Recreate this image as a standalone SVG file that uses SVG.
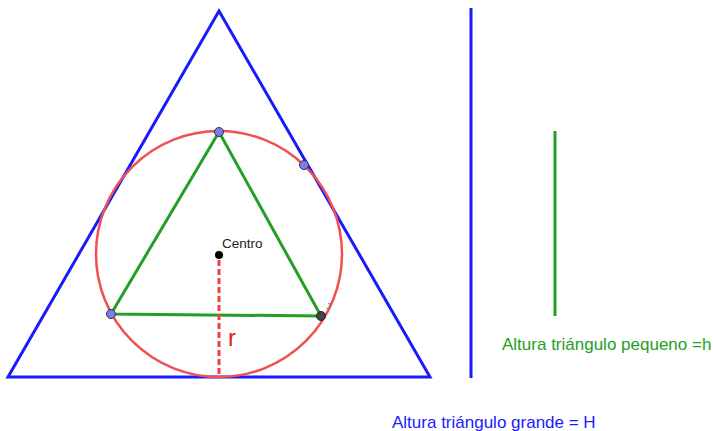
<svg xmlns="http://www.w3.org/2000/svg" width="713" height="431" viewBox="0 0 713 431">
<style>
.t{font-family:"Liberation Sans",Arial,sans-serif}
.pt{fill:#7b7bf0;stroke:#333;stroke-width:1}
</style>
<rect width="713" height="431" fill="#fff"/>
<g id="big-triangle">
<polygon points="219,11 8,377 430,377" fill="none" stroke="#1a1aff" stroke-width="3" stroke-linejoin="miter"/>
</g>
<g id="circle">
<circle cx="219" cy="254" r="123" fill="none" stroke="#f05050" stroke-width="2.5"/>
</g>
<g id="small-triangle">
<polygon points="219,132 111,314 321,316" fill="none" stroke="#23a023" stroke-width="3"/>
</g>
<g id="connectors">
<line x1="219" y1="260" x2="219" y2="377" stroke="#f04040" stroke-width="3" stroke-dasharray="6,3"/>
</g>
<g id="points">
<circle class="pt" cx="219" cy="132" r="4.5"/>
<circle class="pt" cx="111" cy="314" r="4.5"/>
<circle class="pt" cx="304" cy="165" r="4.5"/>
<circle cx="321" cy="316" r="4.5" fill="#444" stroke="#222" stroke-width="1"/>
<text class="t" x="326" y="309" font-size="9" fill="#888">J</text>
</g>
<g id="centro">
<circle cx="219" cy="255" r="4" fill="#000"/>
<text class="t" x="222" y="248" font-size="13.5" fill="#222">Centro</text>
</g>
<g id="r-label">
<text class="t" x="228" y="346" font-size="24" fill="#e02020">r</text>
</g>
<g id="H-line">
<line x1="471" y1="8" x2="471" y2="378" stroke="#1a1aff" stroke-width="3"/>
</g>
<g id="h-line">
<line x1="555" y1="131" x2="555" y2="316" stroke="#23a023" stroke-width="3"/>
</g>
<g id="h-label">
<text class="t" x="502" y="350" font-size="17" fill="#23a023">Altura triángulo pequeno =h</text>
</g>
<g id="H-label">
<text class="t" x="392" y="428" font-size="17" fill="#1a1aff">Altura triángulo grande = H</text>
</g>
</svg>
